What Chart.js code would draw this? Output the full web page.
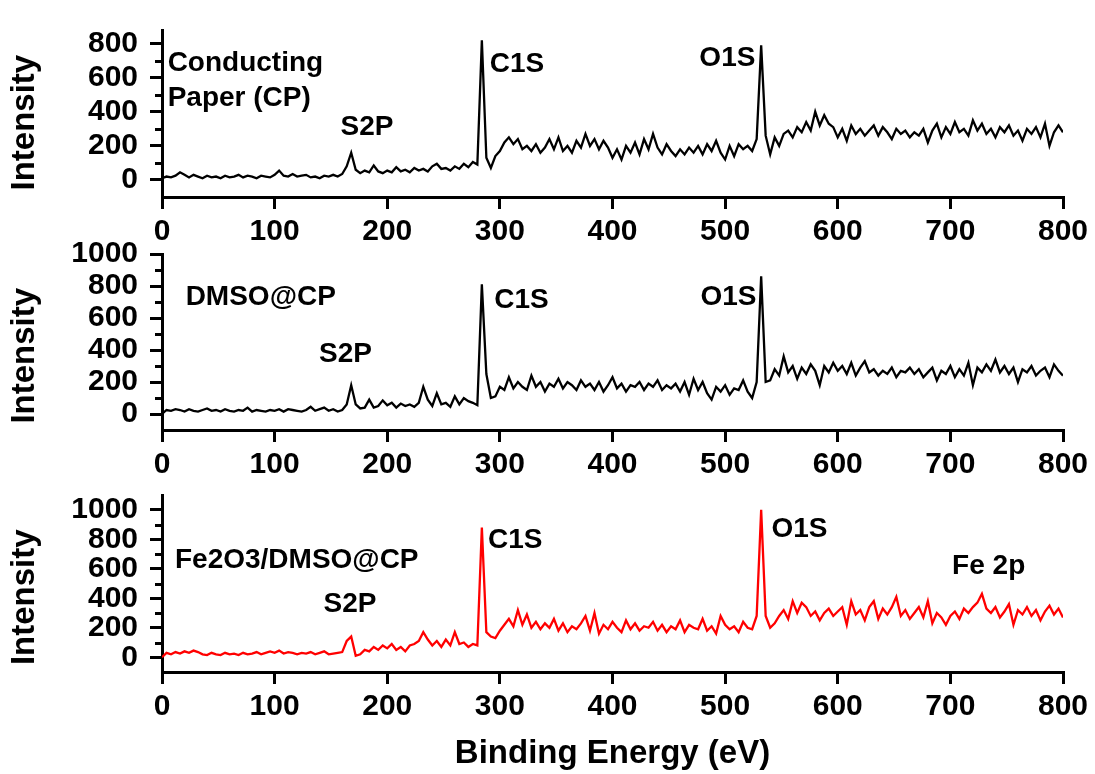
<!DOCTYPE html>
<html>
<head>
<meta charset="utf-8">
<script src="https://cdn.jsdelivr.net/npm/chart.js@4.4.0/dist/chart.umd.min.js"></script>
<style>
  html, body { margin: 0; padding: 0; background: #ffffff; }
  #wrap { position: relative; width: 1095px; height: 774px; overflow: hidden; }
  #wrap canvas { position: absolute; left: 0; top: 0; }
</style>
</head>
<body>
<div id="wrap">
  <canvas id="c1" width="1095" height="774"></canvas>
  <canvas id="c2" width="1095" height="774"></canvas>
  <canvas id="c3" width="1095" height="774"></canvas>
</div>
<script>
// ---------------- DATA ----------------
// Binding energy sample grid (eV)
const energies = [
  0,4,8,12,16,20,24,28,32,36, 40,44,48,52,56,60,64,68,72,76,
  80,84,88,92,96,100,104,108,112,116, 120,124,128,132,136,140,144,148,152,156,
  160,164,168,172,176,180,184,188,192,196, 200,204,208,212,216,220,224,228,232,236,
  240,244,248,252,256,260,264,268,272,276, 280,284,288,292,296,300,304,308,312,316,
  320,324,328,332,336,340,344,348,352,356, 360,364,368,372,376,380,384,388,392,396,
  400,404,408,412,416,420,424,428,432,436, 440,444,448,452,456,460,464,468,472,476,
  480,484,488,492,496,500,504,508,512,516, 520,524,528,532,536,540,544,548,552,556,
  560,564,568,572,576,580,584,588,592,596, 600,604,608,612,616,620,624,628,632,636,
  640,644,648,652,656,660,664,668,672,676, 680,684,688,692,696,700,704,708,712,716,
  720,724,728,732,736,740,744,748,752,756, 760,764,768,772,776,780,784,788,792,796,
  800
];

// Conducting Paper (CP)
const intensityCP = [
  10,20,15,25,45,30,15,30,20,10,
  25,15,20,10,25,15,20,30,15,25,
  20,10,25,20,15,30,55,25,20,35,
  20,25,30,15,20,10,25,20,30,20,
  35,80,160,60,40,55,45,85,50,40,
  55,45,75,50,60,45,70,55,65,50,
  80,95,65,70,55,80,65,95,75,105,
  90,820,130,70,140,170,220,250,210,240,
  180,200,170,210,160,190,240,180,250,170,
  200,160,230,190,270,200,240,180,230,190,
  130,180,120,200,160,220,150,240,180,270,
  190,150,210,170,140,180,150,190,160,200,
  150,210,170,230,160,120,200,140,210,180,
  200,170,240,790,260,150,250,200,270,290,
  250,310,280,340,290,400,320,380,330,310,
  250,300,230,320,270,300,260,290,320,260,
  310,280,240,300,270,290,250,280,260,300,
  220,290,330,250,310,270,340,280,300,260,
  350,290,330,270,300,250,310,280,320,260,
  290,230,300,270,310,250,330,200,280,320,
  280
];

// DMSO@CP
const intensityDMSO = [
  0,25,20,30,25,15,30,20,15,25,
  35,20,25,15,30,20,15,25,20,40,
  15,25,20,15,25,20,30,15,30,25,
  20,15,25,45,20,30,40,20,30,15,
  25,60,180,60,35,40,90,40,50,85,
  55,70,40,65,50,60,45,70,170,90,
  50,130,60,70,45,110,60,100,80,70,
  55,810,250,100,110,170,150,230,160,200,
  170,150,240,170,200,140,190,170,220,160,
  200,180,150,210,170,190,150,200,140,180,
  230,160,190,140,180,170,200,150,190,170,
  210,150,180,160,190,140,200,120,220,150,
  200,130,90,170,140,180,120,160,150,210,
  140,100,200,860,200,210,280,240,360,260,
  300,220,290,250,310,270,180,300,260,320,
  270,300,250,320,240,290,330,260,280,240,
  270,250,290,230,270,260,290,250,280,230,
  260,290,210,270,250,300,230,280,240,320,
  180,290,260,310,270,340,260,300,250,290,
  200,280,260,300,240,270,290,230,310,270,
  240
];

// Fe2O3/DMSO@CP
const intensityFe = [
  0,30,20,35,25,40,30,45,35,20,
  15,30,20,15,30,20,25,15,30,20,
  25,35,20,30,40,30,45,25,35,30,
  20,30,25,35,20,30,40,20,25,30,
  35,110,140,10,20,50,40,70,50,80,
  60,90,50,70,40,80,90,110,170,120,
  80,110,70,120,80,170,90,100,70,90,
  80,880,170,140,130,180,220,260,210,320,
  220,290,200,240,190,230,200,260,180,230,
  170,210,190,230,280,180,300,160,220,190,
  240,200,170,250,190,230,180,210,200,240,
  180,220,170,210,190,250,170,220,200,190,
  260,180,210,160,280,220,190,210,170,240,
  200,190,280,1000,280,200,230,280,320,260,
  380,300,370,340,280,310,250,300,330,280,
  310,340,220,380,290,320,250,340,380,260,
  330,290,340,410,280,320,260,300,340,270,
  380,230,300,270,220,280,310,260,330,300,
  340,370,430,330,300,340,270,310,360,220,
  320,290,340,280,320,250,310,350,290,330,
  270
];

// Tick labels
const xTickValues = [0, 100, 200, 300, 400, 500, 600, 700, 800];
const yTicksCP = [0, 200, 400, 600, 800];
const yMinorCP = [100, 300, 500, 700];
const yTicksDMSO = [0, 200, 400, 600, 800, 1000];
const yMinorDMSO = [100, 300, 500, 700, 900];
const yTicksFe = [0, 200, 400, 600, 800, 1000];
const yMinorFe = [100, 300, 500, 700, 900];

// Peak / sample labels: text with (energy, intensity) anchor
const labelsCP = [
  { text: 'Conducting', e: 5, i: 642, align: 'left' },
  { text: 'Paper (CP)', e: 5, i: 435, align: 'left' },
  { text: 'S2P', e: 182, i: 262, align: 'center' },
  { text: 'C1S', e: 291, i: 631, align: 'left' },
  { text: 'O1S', e: 502, i: 668, align: 'center' }
];
const labelsDMSO = [
  { text: 'DMSO@CP', e: 21, i: 681, align: 'left' },
  { text: 'S2P', e: 163, i: 327, align: 'center' },
  { text: 'C1S', e: 295, i: 662, align: 'left' },
  { text: 'O1S', e: 503, i: 681, align: 'center' }
];
const labelsFe = [
  { text: 'Fe2O3/DMSO@CP', e: 11.5, i: 603, align: 'left' },
  { text: 'S2P', e: 167, i: 309, align: 'center' },
  { text: 'C1S', e: 289.5, i: 739, align: 'left' },
  { text: 'O1S', e: 566, i: 817, align: 'center' },
  { text: 'Fe 2p', e: 734, i: 562, align: 'center' }
];

// ---------------- DRAWING ----------------
const FAMILY = '"Liberation Sans", Arial, Helvetica, sans-serif';

const minorTickPlugin = {
  id: 'minorTicks',
  afterDraw(chart, args, opts) {
    const y = chart.scales.y;
    const ctx = chart.ctx;
    ctx.save();
    ctx.strokeStyle = '#000';
    ctx.lineWidth = 3;
    (opts.values || []).forEach(v => {
      const py = Math.round(y.getPixelForValue(v)) + 0.5;
      ctx.beginPath();
      ctx.moveTo(y.right - 7, py);
      ctx.lineTo(y.right, py);
      ctx.stroke();
    });
    ctx.restore();
  }
};

const peakLabelPlugin = {
  id: 'peakLabels',
  afterDatasetsDraw(chart, args, opts) {
    const xs = chart.scales.x, ys = chart.scales.y;
    const ctx = chart.ctx;
    ctx.save();
    ctx.fillStyle = '#000';
    ctx.font = 'bold 28px ' + FAMILY;
    ctx.textBaseline = 'alphabetic';
    (opts.items || []).forEach(it => {
      ctx.textAlign = it.align;
      ctx.fillText(it.text, xs.getPixelForValue(it.e), ys.getPixelForValue(it.i));
    });
    ctx.restore();
  }
};

function makeChart(id, values, color, yMin, yMax, yTicks, yMinor, labels, padTop, padBottom, xAxisHeight, showXTitle, yTitle) {
  const points = energies.map((e, k) => ({ x: e, y: values[k] }));
  return new Chart(document.getElementById(id), {
    type: 'line',
    data: {
      datasets: [{
        data: points,
        borderColor: color,
        borderWidth: 2.3,
        pointRadius: 0,
        fill: false,
        tension: 0
      }]
    },
    plugins: [minorTickPlugin, peakLabelPlugin],
    options: {
      responsive: false,
      animation: false,
      devicePixelRatio: 1,
      layout: { padding: { top: padTop, bottom: padBottom, left: 0, right: 32 } },
      plugins: {
        legend: { display: false },
        tooltip: { enabled: false },
        minorTicks: { values: yMinor },
        peakLabels: { items: labels }
      },
      scales: {
        x: {
          type: 'linear',
          min: 0,
          max: 800,
          afterBuildTicks: s => { s.ticks = xTickValues.map(v => ({ value: v })); },
          afterFit: s => { s.height = xAxisHeight; },
          ticks: {
            autoSkip: false, maxRotation: 0, color: '#000', padding: 5,
            font: { family: FAMILY, size: 30, weight: 'bold' },
            callback: v => String(v)
          },
          grid: { drawOnChartArea: false, color: '#000', lineWidth: 3, tickWidth: 3, tickColor: '#000', tickLength: 12 },
          border: { display: true, color: '#000', width: 3 },
          title: {
            display: showXTitle, text: 'Binding Energy (eV)', color: '#000',
            font: { family: FAMILY, size: 33, weight: 'bold' },
            padding: { top: 0, bottom: 0 }
          }
        },
        y: {
          type: 'linear',
          min: yMin,
          max: yMax,
          afterBuildTicks: s => { s.ticks = yTicks.map(v => ({ value: v })); },
          afterFit: s => { s.width = 162; },
          ticks: {
            autoSkip: false, color: '#000', padding: 12,
            font: { family: FAMILY, size: 30, weight: 'bold' },
            callback: v => String(v)
          },
          grid: { drawOnChartArea: false, color: '#000', lineWidth: 3, tickWidth: 3, tickColor: '#000', tickLength: 12 },
          border: { display: true, color: '#000', width: 3 },
          title: {
            display: true, text: yTitle, color: '#000',
            font: { family: FAMILY, size: 33, weight: 'bold' },
            padding: { top: 5, bottom: 0 }
          }
        }
      }
    }
  });
}

makeChart('c1', intensityCP, '#000000', -100, 880, yTicksCP, yMinorCP, labelsCP, 20, 527, 50, false, 'Intensity  ');
makeChart('c2', intensityDMSO, '#000000', -100, 1000, yTicksDMSO, yMinorDMSO, labelsDMSO, 254, 294, 50, false, 'Intensity   ');
makeChart('c3', intensityFe, '#ff0000', -100, 1100, yTicksFe, yMinorFe, labelsFe, 495, 0, 102, true, 'Intensity   ');
</script>
</body>
</html>
